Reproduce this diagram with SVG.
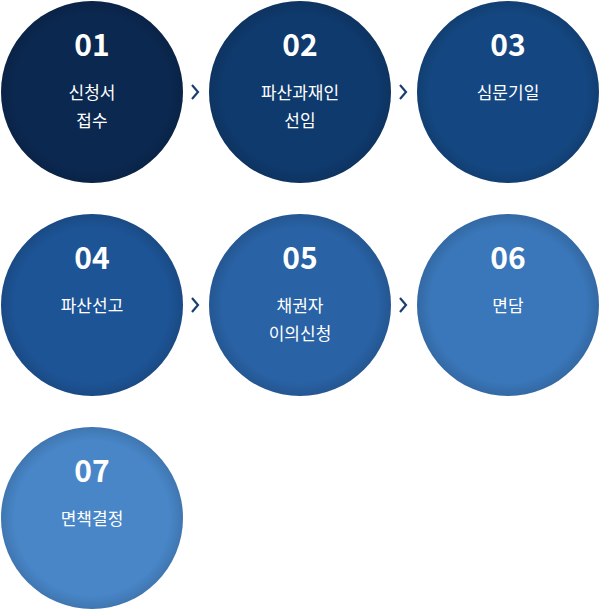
<svg xmlns="http://www.w3.org/2000/svg" width="600" height="611" viewBox="0 0 600 611">
<style>
.n{font-family:"Noto Sans CJK KR","Noto Sans",sans-serif;font-size:30px;font-weight:bold;fill:#fff;text-anchor:middle}
.t{font-family:"Noto Sans CJK KR",sans-serif;font-size:17px;fill:#fff;text-anchor:middle}
.a{fill:none;stroke:#1a3f70;stroke-width:2.2}
</style>
<defs>
<radialGradient id="sh" cx="0.5" cy="0.5" r="0.5"><stop offset="0.85" stop-color="#000" stop-opacity="0"/><stop offset="1" stop-color="#000" stop-opacity="0.12"/></radialGradient>
</defs>
<g id="n1"><circle cx="92" cy="92" r="91" fill="#0b2850"/><circle cx="92" cy="92" r="91" fill="url(#sh)"/><text class="n" x="92" y="56">01</text><text class="t" x="92" y="99">신청서</text><text class="t" x="92" y="127">접수</text></g>
<g id="n2"><circle cx="300" cy="92" r="91" fill="#0f3a6d"/><circle cx="300" cy="92" r="91" fill="url(#sh)"/><text class="n" x="300" y="56">02</text><text class="t" x="300" y="99">파산과재인</text><text class="t" x="300" y="127">선임</text></g>
<g id="n3"><circle cx="508" cy="92" r="91" fill="#144781"/><circle cx="508" cy="92" r="91" fill="url(#sh)"/><text class="n" x="508" y="56">03</text><text class="t" x="508" y="99">심문기일</text></g>
<g id="n4"><circle cx="92" cy="305" r="91" fill="#1d5496"/><circle cx="92" cy="305" r="91" fill="url(#sh)"/><text class="n" x="92" y="269">04</text><text class="t" x="92" y="312">파산선고</text></g>
<g id="n5"><circle cx="300" cy="305" r="91" fill="#2962a5"/><circle cx="300" cy="305" r="91" fill="url(#sh)"/><text class="n" x="300" y="269">05</text><text class="t" x="300" y="312">채권자</text><text class="t" x="300" y="340">이의신청</text></g>
<g id="n6"><circle cx="508" cy="305" r="91" fill="#3a77ba"/><circle cx="508" cy="305" r="91" fill="url(#sh)"/><text class="n" x="508" y="269">06</text><text class="t" x="508" y="312">면담</text></g>
<g id="n7"><circle cx="92" cy="518" r="91" fill="#4886c8"/><circle cx="92" cy="518" r="91" fill="url(#sh)"/><text class="n" x="92" y="482">07</text><text class="t" x="92" y="525">면책결정</text></g>
<g id="connectors">
<polyline class="a" points="192,85 198,92 192,99"/>
<polyline class="a" points="400,85 406,92 400,99"/>
<polyline class="a" points="192,298 198,305 192,312"/>
<polyline class="a" points="400,298 406,305 400,312"/>
</g>
</svg>
